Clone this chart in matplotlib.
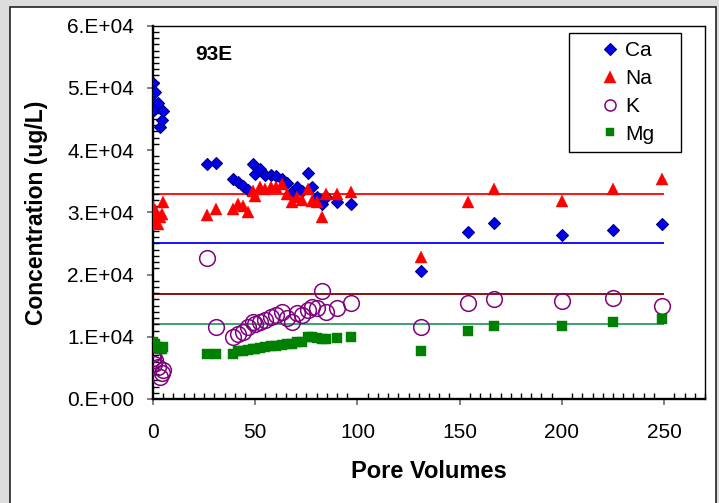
import matplotlib
matplotlib.use('Agg')
import matplotlib.pyplot as plt
from matplotlib.patches import Rectangle
from matplotlib.ticker import MultipleLocator, FixedLocator

plt.rcParams['font.family'] = ['Liberation Sans', 'DejaVu Sans']

# pore volumes of each sample
pore_volumes = [0.0, 0.1, 0.3, 1.0, 2.3, 3.2, 4.2, 5.0,
                26.5, 31, 39, 41.5, 44, 46.5, 49, 50, 52.5, 55, 57.5, 60,
                63, 65.5, 68, 70.5, 73, 76, 78, 80, 82.7, 84.5, 90, 97,
                131, 154, 167, 200, 225, 249]

ca = [50800, 47700, 46400, 49300, 47500, 43700, 44800, 46300,
      37800, 38000, 35300, 34900, 34300, 33600, 37800, 36200, 36900, 36000, 36000, 35900,
      35400, 34700, 33300, 34100, 33500, 36300, 34100, 32500, 31400, 32500, 31700, 31400,
      20500, 26900, 28300, 26300, 27100, 28100]
na = [30900, 28500, 29300, 30300, 28200, 29300, 29800, 31700,
      29500, 30600, 30600, 31400, 31000, 30100, 33500, 32700, 34100, 33800, 34000, 34100,
      34600, 33000, 31700, 32500, 32000, 33800, 31900, 31700, 29300, 33000, 33000, 33200,
      22800, 31700, 33700, 31900, 33700, 35400]
k = [7300, 6600, 5700, 6200, 5200, 3600, 4100, 4600,
     22700, 11500, 10000, 10500, 10800, 11600, 12400, 12000, 12400, 12700, 13200, 13500,
     14000, 13000, 12400, 13800, 13500, 14300, 14800, 14600, 17300, 14000, 14600, 15400,
     11500, 15500, 16000, 15800, 16300, 15000]
mg = [9200, 8800, 8600, 8900, 8400, 8000, 8100, 8300,
      7300, 7300, 7300, 7700, 7700, 7900, 8000, 8100, 8200, 8300, 8500, 8500,
      8700, 8800, 8900, 9100, 9200, 9900, 9900, 9800, 9700, 9700, 9800, 10000,
      7750, 11000, 11800, 11800, 12400, 12900]

# reference levels (Ca, Na, K, Mg)
ref_levels = [25000, 33000, 16800, 12000]
ref_colors = ['#0000ff', '#ff0000', '#800000', '#339966']
ref_end = 250

y_ticks = [0, 10000, 20000, 30000, 40000, 50000, 60000]
y_labels = ['0.E+00', '1.E+04', '2.E+04', '3.E+04', '4.E+04', '5.E+04', '6.E+04']

W, H = 719, 503
fig = plt.figure(figsize=(W / 100, H / 100), dpi=100, facecolor='#dcdcdc')
fig.add_artist(Rectangle((9.5 / W, -0.05), (716 - 9.5) / W, 1.05 - 7 / H,
                         transform=fig.transFigure, facecolor='white',
                         edgecolor='#222222', linewidth=1.2, zorder=-1))

# plot area in pixels
x0, x1, y_top, y_bot = 153, 705, 25.7, 399
ax = fig.add_axes([x0 / W, 1 - y_bot / H, (x1 - x0) / W, (y_bot - y_top) / H])


def ax_xy(px, py):
    return (px - x0) / (x1 - x0), (y_bot - py) / (y_bot - y_top)


for level, color in zip(ref_levels, ref_colors):
    ax.hlines(level, 0, ref_end, color=color, linewidth=1.3, zorder=1)

ax.plot(pore_volumes, ca, linestyle='none', marker='D', markersize=6,
        markerfacecolor='#0000ee', markeredgecolor='#000080', markeredgewidth=0.8,
        label='Ca', zorder=3)
ax.plot(pore_volumes, na, linestyle='none', marker='^', markersize=8.8,
        markerfacecolor='#ff0000', markeredgecolor='#ff0000', markeredgewidth=0.3,
        label='Na', zorder=4)
ax.plot(pore_volumes, k, linestyle='none', marker='o', markersize=11.3,
        markerfacecolor='none', markeredgecolor='#800080', markeredgewidth=1.1,
        label='K', zorder=3)
ax.plot(pore_volumes, mg, linestyle='none', marker='s', markersize=7,
        markerfacecolor='#008000', markeredgecolor='#008000', markeredgewidth=0.3,
        label='Mg', zorder=3)

ax.set_xlim(0, 270)
ax.set_ylim(0, 60000)
ax.xaxis.set_major_locator(FixedLocator([0, 50, 100, 150, 200, 250]))
ax.xaxis.set_minor_locator(MultipleLocator(5))
ax.yaxis.set_major_locator(FixedLocator(y_ticks))
ax.set_yticklabels(y_labels)
ax.yaxis.set_minor_locator(MultipleLocator(1000))

ax.tick_params(which='major', direction='out', length=4.5, width=1.4,
               color='#808080', labelsize=15, labelcolor='black')
ax.tick_params(axis='x', which='major', pad=13)
ax.tick_params(axis='y', which='major', pad=9)
ax.tick_params(which='minor', direction='in', length=4, width=1.0, color='black')

for side in ['left', 'bottom']:
    ax.spines[side].set_linewidth(1.7)
for side in ['top', 'right']:
    ax.spines[side].set_linewidth(1.0)

ax.set_xlabel('Pore Volumes', fontsize=17, fontweight='bold', labelpad=13)
ax.set_ylabel('Concentration (ug/L)', fontsize=16.5, fontweight='bold', labelpad=14)

ax.text(*ax_xy(195, 55), '93E', transform=ax.transAxes,
        fontsize=15, fontweight='bold', va='center', ha='left')

# legend box drawn separately, entries without frame
bl = ax_xy(569, 152)
tr = ax_xy(681, 33)
ax.add_patch(Rectangle(bl, tr[0] - bl[0], tr[1] - bl[1], transform=ax.transAxes,
                       facecolor='white', edgecolor='black', linewidth=1.0, zorder=5))
leg = ax.legend(loc='upper left', bbox_to_anchor=ax_xy(600, 41.5),
                fontsize=15, frameon=False, handlelength=1.0, handletextpad=0.2,
                labelspacing=0.42, borderpad=0, borderaxespad=0)
leg.set_zorder(6)
leg.legend_handles[2].set_markersize(8)
leg.legend_handles[3].set_markersize(6)

fig.savefig('out.png', dpi=100, facecolor=fig.get_facecolor())
